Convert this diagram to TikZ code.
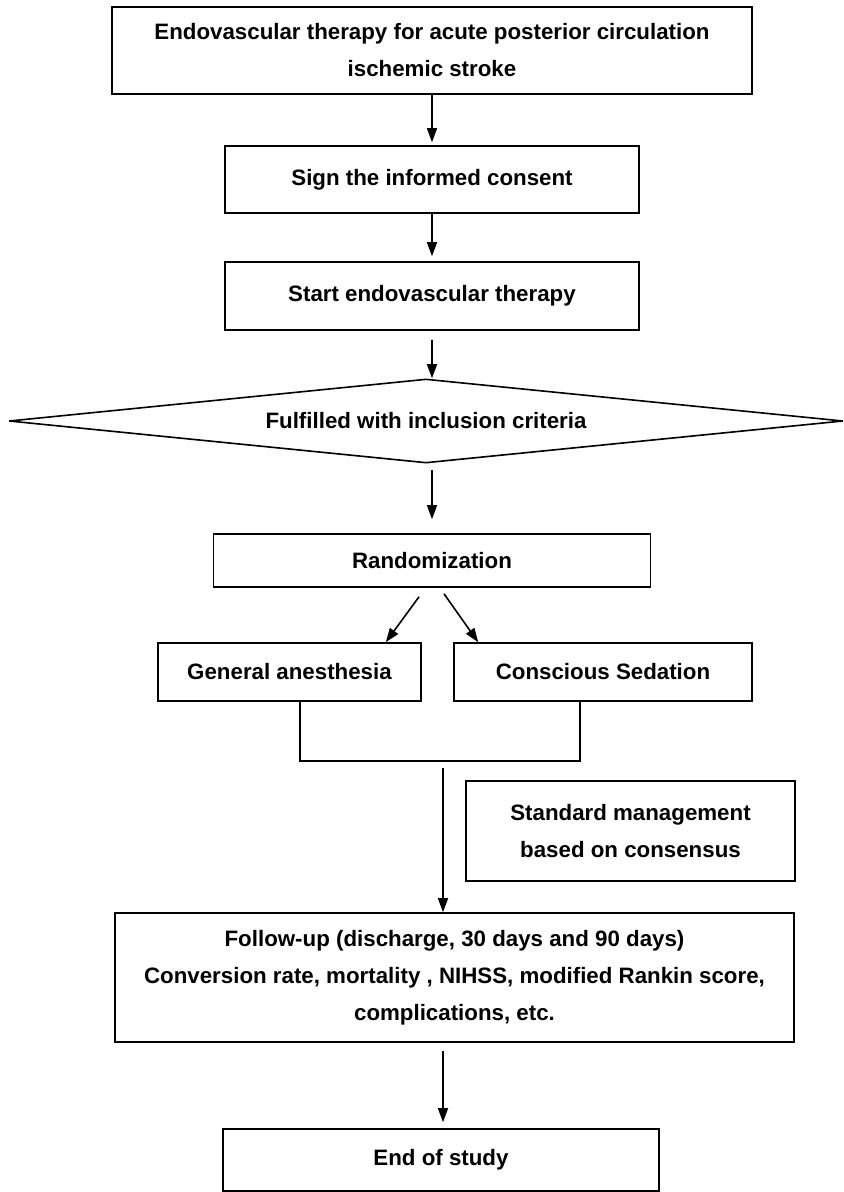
\documentclass[tikz,border=0pt]{standalone}
\usepackage{fontspec}
\setmainfont{Liberation Sans}
\usepackage{tikz}
\usetikzlibrary{arrows.meta,positioning,calc,shapes.geometric}
\newcommand{\flowfont}{\fontsize{22.3bp}{37bp}\selectfont\bfseries}

\begin{document}
\begin{tikzpicture}[x=1bp,y=-1bp,
  flowbox/.style={draw, line width=1.6bp, inner sep=0pt, align=center, font=\flowfont},
  flowline/.style={line width=1.6bp},
  flowarrow/.style={line width=1.6bp, -{Triangle[length=14bp,width=10bp]}}]
\useasboundingbox (0,0) rectangle (844,1192);

\node[flowbox, minimum width=640bp, minimum height=87bp] (start) at (432,50.5) {Endovascular therapy for acute posterior circulation\\ischemic stroke};
\node[flowbox, minimum width=414bp, minimum height=67bp] (consent) at (432,179.5) {Sign the informed consent};
\node[flowbox, minimum width=414bp, minimum height=68bp] (therapy) at (432,296) {Start endovascular therapy};
\node[flowbox, shape=diamond, aspect=10, minimum width=834bp, minimum height=84bp] (criteria) at (426,421) {Fulfilled with inclusion criteria};
\node[flowbox, minimum width=437bp, minimum height=53bp] (rand) at (432,560.5) {Randomization};
\node[flowbox, minimum width=263bp, minimum height=58bp] (ga) at (289.5,672) {General anesthesia};
\node[flowbox, minimum width=298bp, minimum height=58bp] (cs) at (603,672) {Conscious Sedation};
\node[flowbox, minimum width=329bp, minimum height=100bp] (standard) at (630.5,831) {Standard management\\based on consensus};
\node[flowbox, minimum width=679bp, minimum height=129bp] (follow) at (454.5,977.5) {Follow-up (discharge, 30 days and 90 days)\\Conversion rate, mortality , NIHSS, modified Rankin score,\\complications, etc.};
\node[flowbox, minimum width=436bp, minimum height=62bp] (end) at (441,1160) {End of study};

% main line
\draw[flowarrow] (start.south) -- ([yshift=3bp]consent.north);
\draw[flowarrow] (consent.south) -- ([yshift=5bp]therapy.north);
\draw[flowarrow] ([yshift=-9bp]therapy.south) -- ([xshift=6bp]criteria.north);
\draw[flowarrow] ($(criteria.south)+(6,6)$) -- ([yshift=14bp]rand.north);

% two arms
\draw[flowarrow] ($(rand.south)+(-13,9)$) -- ([xshift=-36bp]ga.north east);
\draw[flowarrow] ($(rand.south)+(12,6)$) -- ([xshift=25bp]cs.north west);
\coordinate (jl) at (300,761);
\coordinate (jr) at (580,761);
\draw[flowline] (jl |- ga.south) -- (jl) -- (jr) -- (jr |- cs.south);

\coordinate (join) at (443,768);
\draw[flowarrow] (join) -- (join |- follow.north);
\draw[flowarrow] ($(follow.south -| join)+(0,8)$) -- ($(end.north -| join)+(0,-6)$);
\end{tikzpicture}
\end{document}
